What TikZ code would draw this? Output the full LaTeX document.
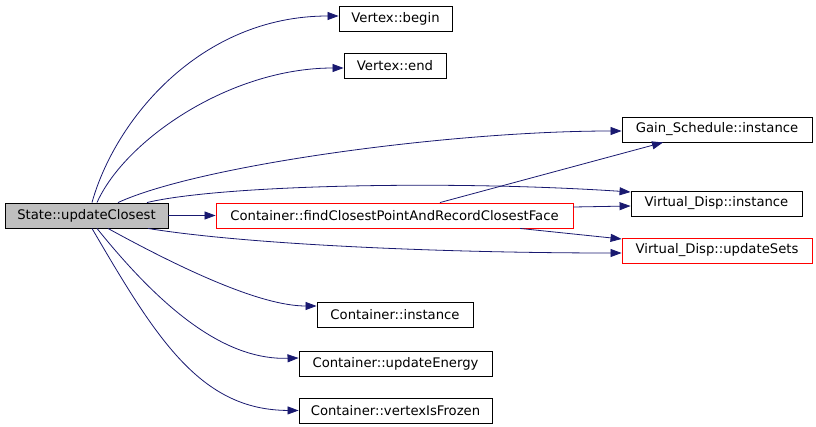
\documentclass[tikz,border=0pt]{standalone}
\usepackage{fontspec}
\setmainfont{DejaVu Sans}
\usepackage{tikz}
\usetikzlibrary{arrows.meta}
\definecolor{cgedge}{HTML}{191970}
\definecolor{cgred}{HTML}{FF0000}
\definecolor{cggrey}{HTML}{BFBFBF}
\tikzset{
  fnnode/.style={draw=black,line width=0.9pt,minimum height=25pt,inner sep=0pt,font=\fontsize{13.2}{15}\selectfont},
  rootnode/.style={fnnode,fill=cggrey},
  rednode/.style={fnnode,draw=cgred},
  calledge/.style={-{Triangle[length=11pt,width=8pt]},line width=0.8pt,cgedge},
}
\begin{document}
\begin{tikzpicture}[x=1pt,y=-1pt]
  \useasboundingbox (0,0) rectangle (816,427);
  \node[rootnode,minimum width=163pt] (nState) at (86.5,215.5) {State::updateClosest};
  \node[rednode,minimum width=357pt] (nFind) at (394.5,215.5) {Container::findClosestPointAndRecordClosestFace};
  \node[fnnode,minimum width=190pt] (nGain) at (717,129.5) {Gain\_Schedule::instance};
  \node[fnnode,minimum width=171pt] (nVDinst) at (716.5,203.5) {Virtual\_Disp::instance};
  \node[rednode,minimum width=190pt] (nVDsets) at (717,250.5) {Virtual\_Disp::updateSets};
  \node[fnnode,minimum width=113pt] (nVbegin) at (395.5,18.5) {Vertex::begin};
  \node[fnnode,minimum width=102pt] (nVend) at (395,66) {Vertex::end};
  \node[fnnode,minimum width=156pt] (nCinst) at (395,315) {Container::instance};
  \node[fnnode,minimum width=193pt] (nCenergy) at (395.5,363.5) {Container::updateEnergy};
  \node[fnnode,minimum width=193pt] (nCfrozen) at (395.5,410.5) {Container::vertexIsFrozen};
  % calls from the root
  \draw[calledge] ([xshift=5.5pt]nState.north) .. controls (115,120) and (200,16) .. ([yshift=2.5pt]nVbegin.west);
  \draw[calledge] ([xshift=10.5pt]nState.north) .. controls (125,140) and (230,68) .. ([yshift=-2pt]nVend.west);
  \draw[calledge] ([xshift=31.5pt]nState.north) .. controls (200,165) and (450,131) .. ([yshift=-1.5pt]nGain.west);
  \draw[calledge] ([xshift=60.5pt]nState.north) .. controls (220,185) and (450,180) .. ([yshift=11.5pt]nVDinst.west);
  \draw[calledge] (nState) -- (nFind);
  \draw[calledge] ([xshift=61.5pt]nState.south) .. controls (250,245) and (450,253) .. ([yshift=-2.5pt]nVDsets.west);
  \draw[calledge] ([xshift=21.5pt]nState.south) .. controls (180,268) and (260,306) .. ([yshift=9pt]nCinst.west);
  \draw[calledge] ([xshift=10.5pt]nState.south) .. controls (169,318) and (230,360) .. ([yshift=5.5pt]nCenergy.west);
  \draw[calledge] ([xshift=5.5pt]nState.south) .. controls (156,338) and (200,410) .. (nCfrozen.west);
  % calls from the search routine
  \draw[calledge] ([xshift=45.5pt]nFind.north) -- ([xshift=-54pt]nGain.south);
  \draw[calledge] ([yshift=8.5pt]nFind.east) -- ([yshift=-2.5pt]nVDinst.west);
  \draw[calledge] ([xshift=125.5pt]nFind.south) -- ([yshift=11.5pt]nVDsets.west);
\end{tikzpicture}
\end{document}
